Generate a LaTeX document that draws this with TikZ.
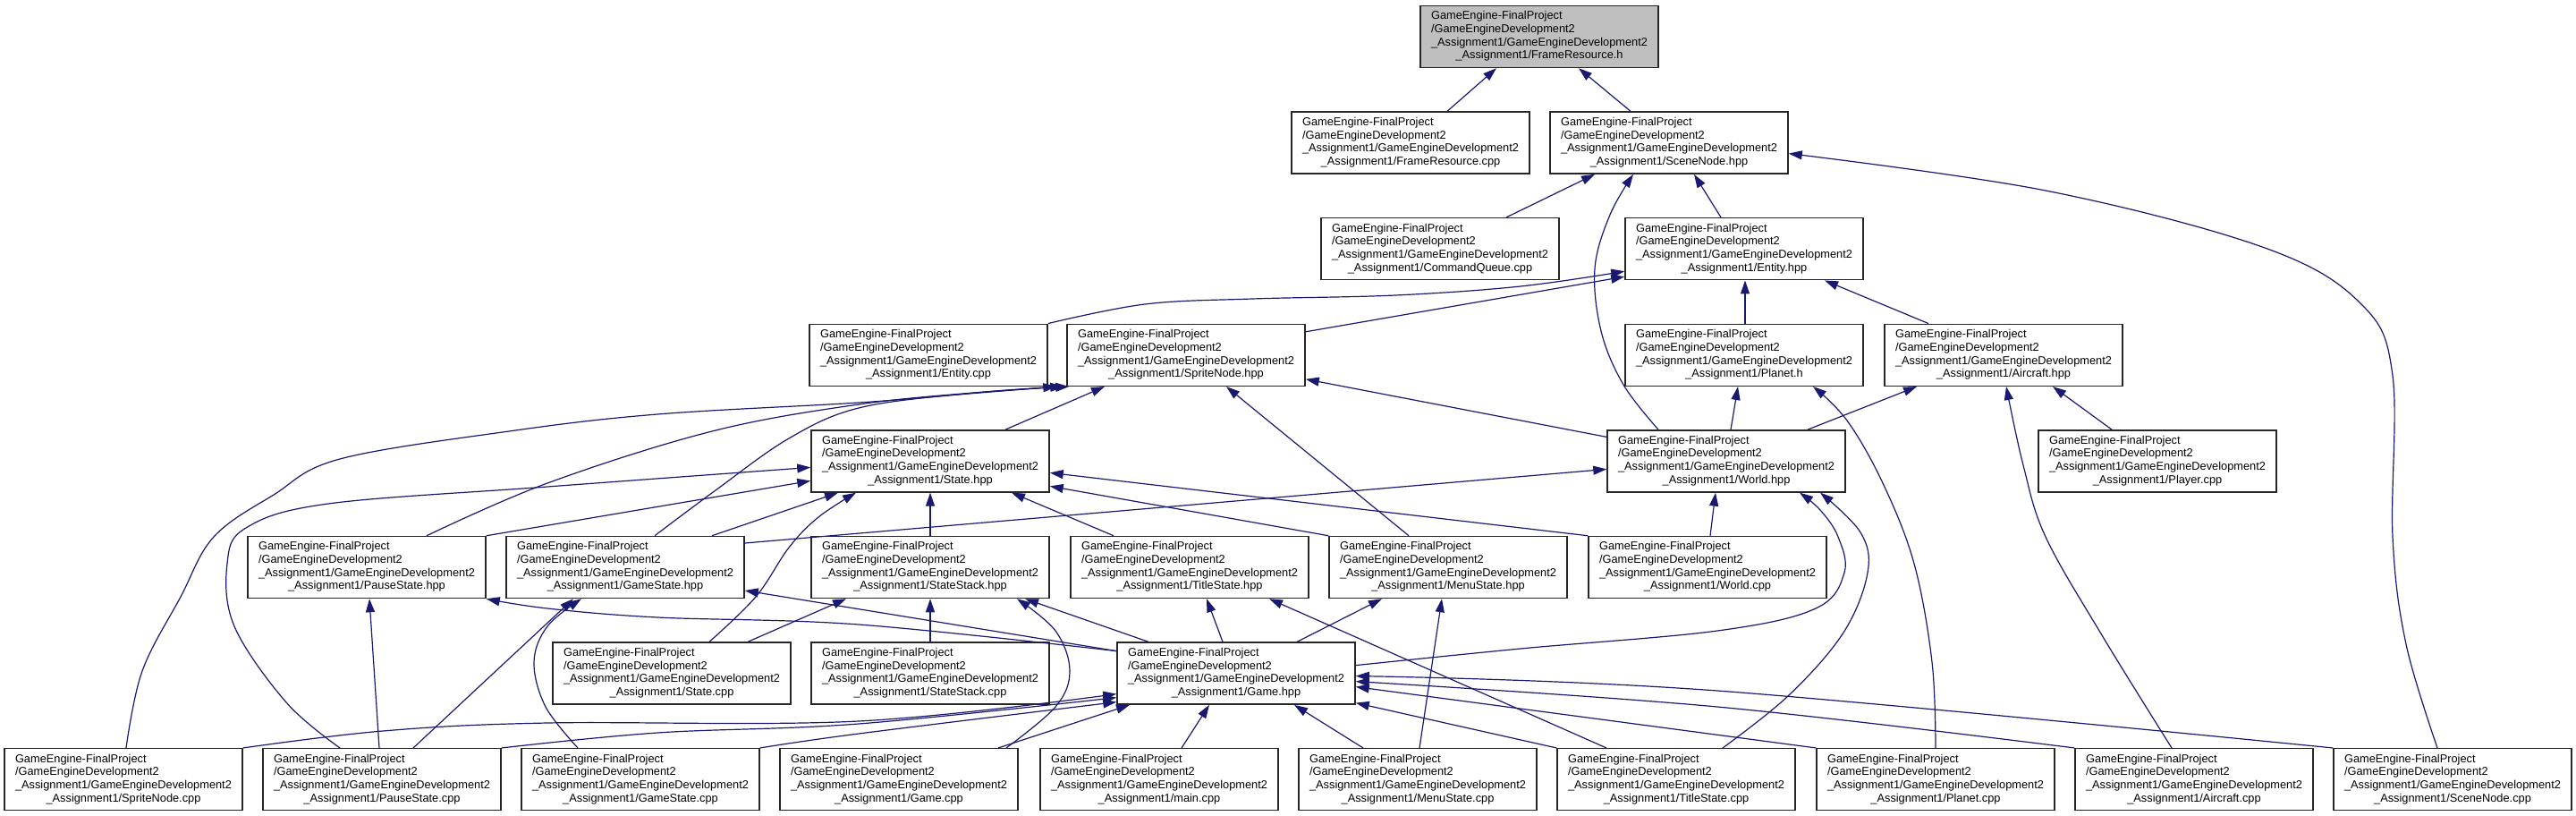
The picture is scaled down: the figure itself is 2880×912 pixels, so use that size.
\documentclass[tikz,border=0pt]{standalone}
\usepackage{fontspec}
\usetikzlibrary{arrows.meta}
\newfontfamily\lblfont{Liberation Sans}
\definecolor{edgecol}{RGB}{25,25,112}
\definecolor{focusfill}{RGB}{191,191,191}
\newcommand{\flbl}[1]{\begin{tabular}{@{}l@{}}GameEngine-FinalProject\\/GameEngineDevelopment2\\\_Assignment1/GameEngineDevelopment2\\\multicolumn{1}{@{}c@{}}{\_Assignment1/#1}\end{tabular}}
\tikzset{
  filebox/.style={draw=black!85, line width=1.5pt, fill=white, minimum width=266pt, minimum height=69pt, inner sep=0pt,
    font=\lblfont\fontsize{12.8}{14.7}\selectfont},
  focusbox/.style={filebox, fill=focusfill},
  dep/.style={draw=edgecol, line width=1.2pt, -{Triangle[length=15pt,width=10pt]}},
}
\begin{document}
\begin{tikzpicture}[x=1pt,y=-1pt]
\useasboundingbox (0,0) rectangle (2880,912);
% row 0
\node[focusbox] (frh) at (1721,41) {\flbl{FrameResource.h}};
% row 1
\node[filebox] (frcpp) at (1577,159.6) {\flbl{FrameResource.cpp}};
\node[filebox] (snh) at (1866,159.6) {\flbl{SceneNode.hpp}};
% row 2
\node[filebox] (cqcpp) at (1610,278.2) {\flbl{CommandQueue.cpp}};
\node[filebox] (enth) at (1950,278.2) {\flbl{Entity.hpp}};
% row 3
\node[filebox] (entcpp) at (1038,396.8) {\flbl{Entity.cpp}};
\node[filebox] (sph) at (1326,396.8) {\flbl{SpriteNode.hpp}};
\node[filebox] (plh) at (1950,396.8) {\flbl{Planet.h}};
\node[filebox] (airh) at (2240,396.8) {\flbl{Aircraft.hpp}};
% row 4
\node[filebox] (sth) at (1040,515.4) {\flbl{State.hpp}};
\node[filebox] (wldh) at (1930,515.4) {\flbl{World.hpp}};
\node[filebox] (plycpp) at (2412,515.4) {\flbl{Player.cpp}};
% row 5
\node[filebox] (psh) at (410,634) {\flbl{PauseState.hpp}};
\node[filebox] (gsh) at (699,634) {\flbl{GameState.hpp}};
\node[filebox] (ssh) at (1040,634) {\flbl{StateStack.hpp}};
\node[filebox] (tsh) at (1330,634) {\flbl{TitleState.hpp}};
\node[filebox] (msh) at (1619,634) {\flbl{MenuState.hpp}};
\node[filebox] (wldcpp) at (1909,634) {\flbl{World.cpp}};
% row 6
\node[filebox] (stcpp) at (751,752.6) {\flbl{State.cpp}};
\node[filebox] (sscpp) at (1040,752.6) {\flbl{StateStack.cpp}};
\node[filebox] (gmh) at (1382,752.6) {\flbl{Game.hpp}};
% row 7
\node[filebox] (spcpp) at (138,871.2) {\flbl{SpriteNode.cpp}};
\node[filebox] (pscpp) at (427,871.2) {\flbl{PauseState.cpp}};
\node[filebox] (gscpp) at (716,871.2) {\flbl{GameState.cpp}};
\node[filebox] (gmcpp) at (1005,871.2) {\flbl{Game.cpp}};
\node[filebox] (maincpp) at (1296,871.2) {\flbl{main.cpp}};
\node[filebox] (mscpp) at (1585,871.2) {\flbl{MenuState.cpp}};
\node[filebox] (tscpp) at (1874,871.2) {\flbl{TitleState.cpp}};
\node[filebox] (plcpp) at (2164,871.2) {\flbl{Planet.cpp}};
\node[filebox] (aircpp) at (2453,871.2) {\flbl{Aircraft.cpp}};
\node[filebox] (sncpp) at (2742,871.2) {\flbl{SceneNode.cpp}};

% ---- edges (includer -> included) ----
\draw[dep] ([xshift=41pt]frcpp.north) -- ([xshift=-48pt]frh.south);
\draw[dep] ([xshift=-43pt]snh.north) -- ([xshift=44pt]frh.south);
\draw[dep] ([xshift=74pt]cqcpp.north) -- ([xshift=-83pt]snh.south);
\draw[dep] ([xshift=-26pt]enth.north) -- ([xshift=28pt]snh.south);
\draw[dep] plot[smooth,tension=0.6] coordinates {([xshift=-76pt]wldh.north) (1815,430) (1790,370) (1783,300) (1800,240) ([xshift=-40pt]snh.south)};
\draw[dep] plot[smooth,tension=0.6] coordinates {([xshift=-17pt]sncpp.north) (2690,720) (2675,600) (2675,420) (2640,340) (2532,277) (2287,213) ([yshift=-12pt]snh.east)};
\draw[dep] plot[smooth,tension=0.6] coordinates {(entcpp.north east) (1280,340) (1400,334) (1560,330) (1700,320) ([yshift=-25pt]enth.west)};
\draw[dep] ([yshift=26pt]sph.east) -- ([yshift=-31pt]enth.west);
\draw[dep] ([xshift=1pt]plh.north) -- ([xshift=1pt]enth.south);
\draw[dep] ([xshift=-84pt]airh.north) -- ([xshift=90pt]enth.south);
\draw[dep] ([xshift=84pt]sth.north) -- ([xshift=-91pt]sph.south);
\draw[dep] ([yshift=27pt]wldh.west) -- ([yshift=-27pt]sph.east);
\draw[dep] ([xshift=-44pt]msh.north) -- ([xshift=45pt]sph.south);
\draw[dep] plot[smooth,tension=0.6] coordinates {([xshift=3pt]spcpp.north) (159,750) (202,667) (239,600) (306,553) (380,513) (569,482) (735,463) (960,450) (1083,440) ([xshift=-11pt]sph.south west)};
\draw[dep] plot[smooth,tension=0.6] coordinates {([xshift=67pt]psh.north) (612,540) (796,482) (960,452) (1100,438) ([xshift=-3pt]sph.south west)};
\draw[dep] plot[smooth,tension=0.6] coordinates {([xshift=33pt]gsh.north) (800,548) (882,490) (960,456) (1080,440) ([xshift=3pt]sph.south west)};
\draw[dep] ([xshift=5pt]wldh.north) -- ([xshift=-7pt]plh.south);
\draw[dep] ([xshift=91pt]wldh.north) -- ([xshift=-97pt]airh.south);
\draw[dep] ([xshift=-51pt]plycpp.north) -- ([xshift=55pt]airh.south);
\draw[dep] plot[smooth,tension=0.6] coordinates {(plcpp.north) (2160,740) (2140,630) (2105,540) (2065,470) ([xshift=77pt]plh.south)};
\draw[dep] plot[smooth,tension=0.6] coordinates {([xshift=-25pt]aircpp.north) (2350,710) (2287,600) (2262,520) ([xshift=3pt]airh.south)};
\draw[dep] (psh.north east) -- ([yshift=-22pt]sth.west);
\draw[dep] plot[smooth,tension=0.6] coordinates {([xshift=-47pt]pscpp.north) (320,785) (262,700) (254,630) (275,590) (367,563) (612,544) ([yshift=-7pt]sth.west)};
\draw[dep] ([xshift=97pt]gsh.north) -- ([xshift=-103pt]sth.south);
\draw[dep] plot[smooth,tension=0.6] coordinates {([xshift=42pt]stcpp.north) (845,667) (882,612) (915,578) ([xshift=-83pt]sth.south)};
\draw[dep] (ssh.north) -- (sth.south);
\draw[dep] ([xshift=-85pt]tsh.north) -- ([xshift=91pt]sth.south);
\draw[dep] (msh.north west) -- ([yshift=-28pt]sth.east);
\draw[dep] (wldcpp.north west) -- ([yshift=-13pt]sth.east);
\draw[dep] ([yshift=27pt]gsh.east) -- ([yshift=-9pt]wldh.west);
\draw[dep] ([xshift=3pt]wldcpp.north) -- ([xshift=-12pt]wldh.south);
\draw[dep] plot[smooth,tension=0.6] coordinates {([yshift=9pt]gmh.east) (1700,725) (1920,705) (2030,680) (2062,640) (2055,600) (2035,570) ([xshift=82pt]wldh.south)};
\draw[dep] plot[smooth,tension=0.6] coordinates {([xshift=52pt]tscpp.north) (2000,777) (2061,707) (2088,640) (2080,595) ([xshift=105pt]wldh.south)};
\draw[dep] ([xshift=-3pt]pscpp.north) -- ([xshift=3pt]psh.south);
\draw[dep] plot[smooth,tension=0.6] coordinates {([yshift=25pt]gmh.west) (960,698) (735,690) (612,680) (psh.south east)};
\draw[dep] ([xshift=35pt]pscpp.north) -- ([xshift=-58pt]gsh.south);
\draw[dep] plot[smooth,tension=0.6] coordinates {([xshift=-70pt]gscpp.north) (610,790) (597,740) (612,700) ([xshift=-49pt]gsh.south)};
\draw[dep] ([yshift=25pt]gmh.west) -- ([yshift=-26pt]gsh.east);
\draw[dep] (sscpp.north) -- (ssh.south);
\draw[dep] ([xshift=85pt]stcpp.north) -- ([xshift=-94pt]ssh.south);
\draw[dep] ([xshift=-98pt]gmh.north) -- ([xshift=106pt]ssh.south);
\draw[dep] plot[smooth,tension=0.6] coordinates {([xshift=120pt]gmcpp.north) (1180,790) (1196,750) (1180,705) ([xshift=97pt]ssh.south)};
\draw[dep] ([xshift=-15pt]gmh.north) -- ([xshift=19pt]tsh.south);
\draw[dep] ([xshift=-78pt]tscpp.north) -- ([xshift=89pt]tsh.south);
\draw[dep] ([xshift=68pt]gmh.north) -- ([xshift=-74pt]msh.south);
\draw[dep] ([xshift=2pt]mscpp.north) -- ([xshift=-7pt]msh.south);
\draw[dep] plot[smooth,tension=0.6] coordinates {(spcpp.north east) (428,817) (612,808) (960,806) ([yshift=-23pt]gmh.west)};
\draw[dep] plot[smooth,tension=0.6] coordinates {(pscpp.north east) (735,819) (960,809) ([yshift=-27pt]gmh.west)};
\draw[dep] plot[smooth,tension=0.6] coordinates {(gscpp.north east) (960,820) ([yshift=-32pt]gmh.west)};
\draw[dep] ([xshift=111pt]gmcpp.north) -- ([xshift=-119pt]gmh.south);
\draw[dep] ([xshift=25pt]maincpp.north) -- ([xshift=-30pt]gmh.south);
\draw[dep] ([xshift=-61pt]mscpp.north) -- ([xshift=65pt]gmh.south);
\draw[dep] (tscpp.north west) -- ([yshift=-33pt]gmh.east);
\draw[dep] (plcpp.north west) -- ([yshift=-15pt]gmh.east);
\draw[dep] plot[smooth,tension=0.6] coordinates {(aircpp.north west) (1920,790) ([yshift=-9pt]gmh.east)};
\draw[dep] plot[smooth,tension=0.6] coordinates {(sncpp.north west) (1920,772) ([yshift=-3pt]gmh.east)};
\end{tikzpicture}
\end{document}
